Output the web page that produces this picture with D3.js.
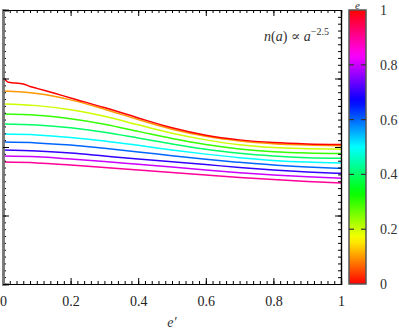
<!DOCTYPE html>
<html>
<head>
  <meta charset="utf-8">
  <style>
    body { margin: 0; background: #fff; }
    text { font-family: "Liberation Serif", "DejaVu Serif", serif; }
  </style>
</head>
<body>
  <script src="https://d3js.org/d3.v7.min.js"></script>
  <script type="text/javascript">
    // e' grid shared by all curves
    var ePrime = [0, 0.1, 0.2, 0.3, 0.4, 0.5, 0.6, 0.7, 0.8, 0.9, 1];
    // the e = 0 curve is noisy near the origin, so it has a finer grid
    var ePrimeE0 = [0, 0.005, 0.01, 0.02, 0.03, 0.05, 0.06, 0.08, 0.1, 0.15, 0.2, 0.3, 0.4, 0.5, 0.6, 0.7, 0.8, 0.9, 1];

    var eLevels = [0, 0.1, 0.2, 0.3, 0.4, 0.5, 0.6, 0.7, 0.8, 0.9];

    var curveE0 = [0.755, 0.748, 0.741, 0.735, 0.734, 0.732, 0.730, 0.721, 0.714, 0.697, 0.679, 0.644, 0.606, 0.570, 0.543, 0.526, 0.516, 0.511, 0.509];
    var curveE1 = [0.704, 0.695, 0.672, 0.638, 0.600, 0.565, 0.539, 0.522, 0.512, 0.507, 0.505];
    var curveE2 = [0.657, 0.651, 0.636, 0.612, 0.581, 0.550, 0.526, 0.508, 0.498, 0.494, 0.492];
    var curveE3 = [0.620, 0.616, 0.603, 0.583, 0.557, 0.531, 0.509, 0.493, 0.483, 0.478, 0.476];
    var curveE4 = [0.584, 0.580, 0.570, 0.554, 0.533, 0.511, 0.492, 0.477, 0.467, 0.461, 0.459];
    var curveE5 = [0.547, 0.544, 0.535, 0.522, 0.506, 0.489, 0.474, 0.461, 0.451, 0.445, 0.442];
    var curveE6 = [0.518, 0.515, 0.507, 0.495, 0.482, 0.468, 0.455, 0.444, 0.434, 0.427, 0.422];
    var curveE7 = [0.489, 0.485, 0.478, 0.467, 0.456, 0.446, 0.436, 0.425, 0.416, 0.409, 0.404];
    var curveE8 = [0.467, 0.464, 0.456, 0.447, 0.437, 0.427, 0.416, 0.406, 0.398, 0.391, 0.386];
    var curveE9 = [0.445, 0.442, 0.434, 0.425, 0.416, 0.407, 0.398, 0.389, 0.381, 0.374, 0.369];

    var xTicks = [0, 0.2, 0.4, 0.6, 0.8, 1];
    var cbTicks = [0, 0.2, 0.4, 0.6, 0.8, 1];

    var svgW = 399, svgH = 330;
    var plotL = 3, plotR = 341, plotT = 10, plotB = 284;
    var cbX = 349, cbW = 17;

    var svg = d3.select('body').append('svg').attr('width', svgW).attr('height', svgH);

    var x = d3.scaleLinear().domain([0, 1]).range([plotL, plotR]);
    var y = d3.scaleLinear().domain([0, 1]).range([plotB, plotT]);
    var c = d3.scaleLinear().domain([0, 1]).range([plotB, plotT]);

    function hue(e) { return d3.hsl(360 * e, 1, 0.5).toString(); }

    var curves = [
      { e: eLevels[0], xs: ePrimeE0, ys: curveE0 },
      { e: eLevels[1], xs: ePrime, ys: curveE1 },
      { e: eLevels[2], xs: ePrime, ys: curveE2 },
      { e: eLevels[3], xs: ePrime, ys: curveE3 },
      { e: eLevels[4], xs: ePrime, ys: curveE4 },
      { e: eLevels[5], xs: ePrime, ys: curveE5 },
      { e: eLevels[6], xs: ePrime, ys: curveE6 },
      { e: eLevels[7], xs: ePrime, ys: curveE7 },
      { e: eLevels[8], xs: ePrime, ys: curveE8 },
      { e: eLevels[9], xs: ePrime, ys: curveE9 }
    ].reverse();

    var line = d3.line()
      .x(function(d) { return x(d[0]); })
      .y(function(d) { return y(d[1]); })
      .curve(d3.curveMonotoneX);

    // Draw curves (red on top)
    svg.append('g').selectAll('path').data(curves).enter().append('path')
      .attr('d', function(d) { return line(d3.zip(d.xs, d.ys)); })
      .attr('fill', 'none')
      .attr('stroke', function(d) { return hue(d.e); })
      .attr('stroke-width', 1.5);

    // Axes: ticks pointing inward, minor every 0.02 on x and 0.025 on y
    var xMinor = d3.range(0, 1.0001, 0.02);
    var yMinor = d3.range(0, 1.0001, 0.025);
    var yMajor = [0, 0.25, 0.5, 0.75, 1];

    svg.append('g').attr('transform', 'translate(0,' + plotB + ')')
      .call(d3.axisBottom(x).tickValues(xMinor).tickSize(-3).tickFormat(''));
    svg.append('g').attr('transform', 'translate(0,' + plotB + ')')
      .call(d3.axisBottom(x).tickValues(xTicks).tickSize(-6).tickPadding(12).tickFormat(d3.format('')));
    svg.append('g').attr('transform', 'translate(0,' + plotT + ')')
      .call(d3.axisTop(x).tickValues(xMinor).tickSize(-3).tickFormat(''));
    svg.append('g').attr('transform', 'translate(0,' + plotT + ')')
      .call(d3.axisTop(x).tickValues(xTicks).tickSize(-6).tickFormat(''));
    svg.append('g').attr('class', 'yleft').attr('transform', 'translate(' + plotL + ',0)')
      .call(d3.axisLeft(y).tickValues(yMinor).tickSize(-3).tickFormat(''));
    svg.append('g').attr('class', 'yleft').attr('transform', 'translate(' + plotL + ',0)')
      .call(d3.axisLeft(y).tickValues(yMajor).tickSize(-6).tickFormat(''));
    svg.append('g').attr('transform', 'translate(' + plotR + ',0)')
      .call(d3.axisRight(y).tickValues(yMinor).tickSize(-3).tickFormat(''));
    svg.append('g').attr('transform', 'translate(' + plotR + ',0)')
      .call(d3.axisRight(y).tickValues(yMajor).tickSize(-6).tickFormat(''));

    svg.selectAll('.domain').attr('stroke', '#000').attr('stroke-width', 1.2);
    svg.selectAll('.tick line').attr('stroke', '#000');
    svg.selectAll('.yleft .domain').attr('stroke', '#777').attr('stroke-width', 2.5);
    svg.selectAll('.tick text').attr('font-size', '14px').attr('fill', '#222');

    // axis title
    svg.append('text').attr('x', 172).attr('y', 327).attr('text-anchor', 'middle')
      .attr('font-size', '14px').attr('font-style', 'italic').attr('fill', '#333').text('e\u2032');

    // annotation
    var note = svg.append('text').attr('x', 329).attr('y', 41).attr('text-anchor', 'end')
      .attr('font-size', '14px').attr('fill', '#333');
    note.append('tspan').attr('font-style', 'italic').text('n');
    note.append('tspan').text('(');
    note.append('tspan').attr('font-style', 'italic').text('a');
    note.append('tspan').text(') \u221D ');
    note.append('tspan').attr('font-style', 'italic').text('a');
    note.append('tspan').attr('font-size', '10px').attr('dy', -6).text('\u22122.5');

    // colour bar
    var grad = svg.append('defs').append('linearGradient').attr('id', 'cb')
      .attr('x1', 0).attr('y1', 1).attr('x2', 0).attr('y2', 0);
    grad.selectAll('stop').data(d3.range(0, 1.0001, 0.025)).enter().append('stop')
      .attr('offset', function(d) { return d; })
      .attr('stop-color', hue);

    svg.append('rect').attr('x', cbX).attr('y', plotT).attr('width', cbW).attr('height', plotB - plotT)
      .attr('fill', 'url(#cb)').attr('stroke', '#555').attr('stroke-width', 1.5);

    var inner = cbTicks.filter(function(t) { return t > 0 && t < 1; });
    svg.append('g').selectAll('line').data(inner).enter().append('line')
      .attr('x1', cbX).attr('x2', cbX + 5)
      .attr('y1', c).attr('y2', c).attr('stroke', '#333').attr('stroke-width', 1.2);
    svg.append('g').selectAll('line').data(inner).enter().append('line')
      .attr('x1', cbX + cbW - 5).attr('x2', cbX + cbW)
      .attr('y1', c).attr('y2', c).attr('stroke', '#333').attr('stroke-width', 1.2);

    svg.append('g').selectAll('text').data(cbTicks).enter().append('text')
      .attr('x', 380).attr('y', function(d) { return c(d) + 5; })
      .attr('font-size', '14px').attr('fill', '#333')
      .text(function(d) { return d3.format('')(d); });

    svg.append('text').attr('x', cbX + cbW / 2).attr('y', 8.5).attr('text-anchor', 'middle')
      .attr('font-size', '11px').attr('font-style', 'italic').attr('fill', '#333').text('e');
  </script>
</body>
</html>
